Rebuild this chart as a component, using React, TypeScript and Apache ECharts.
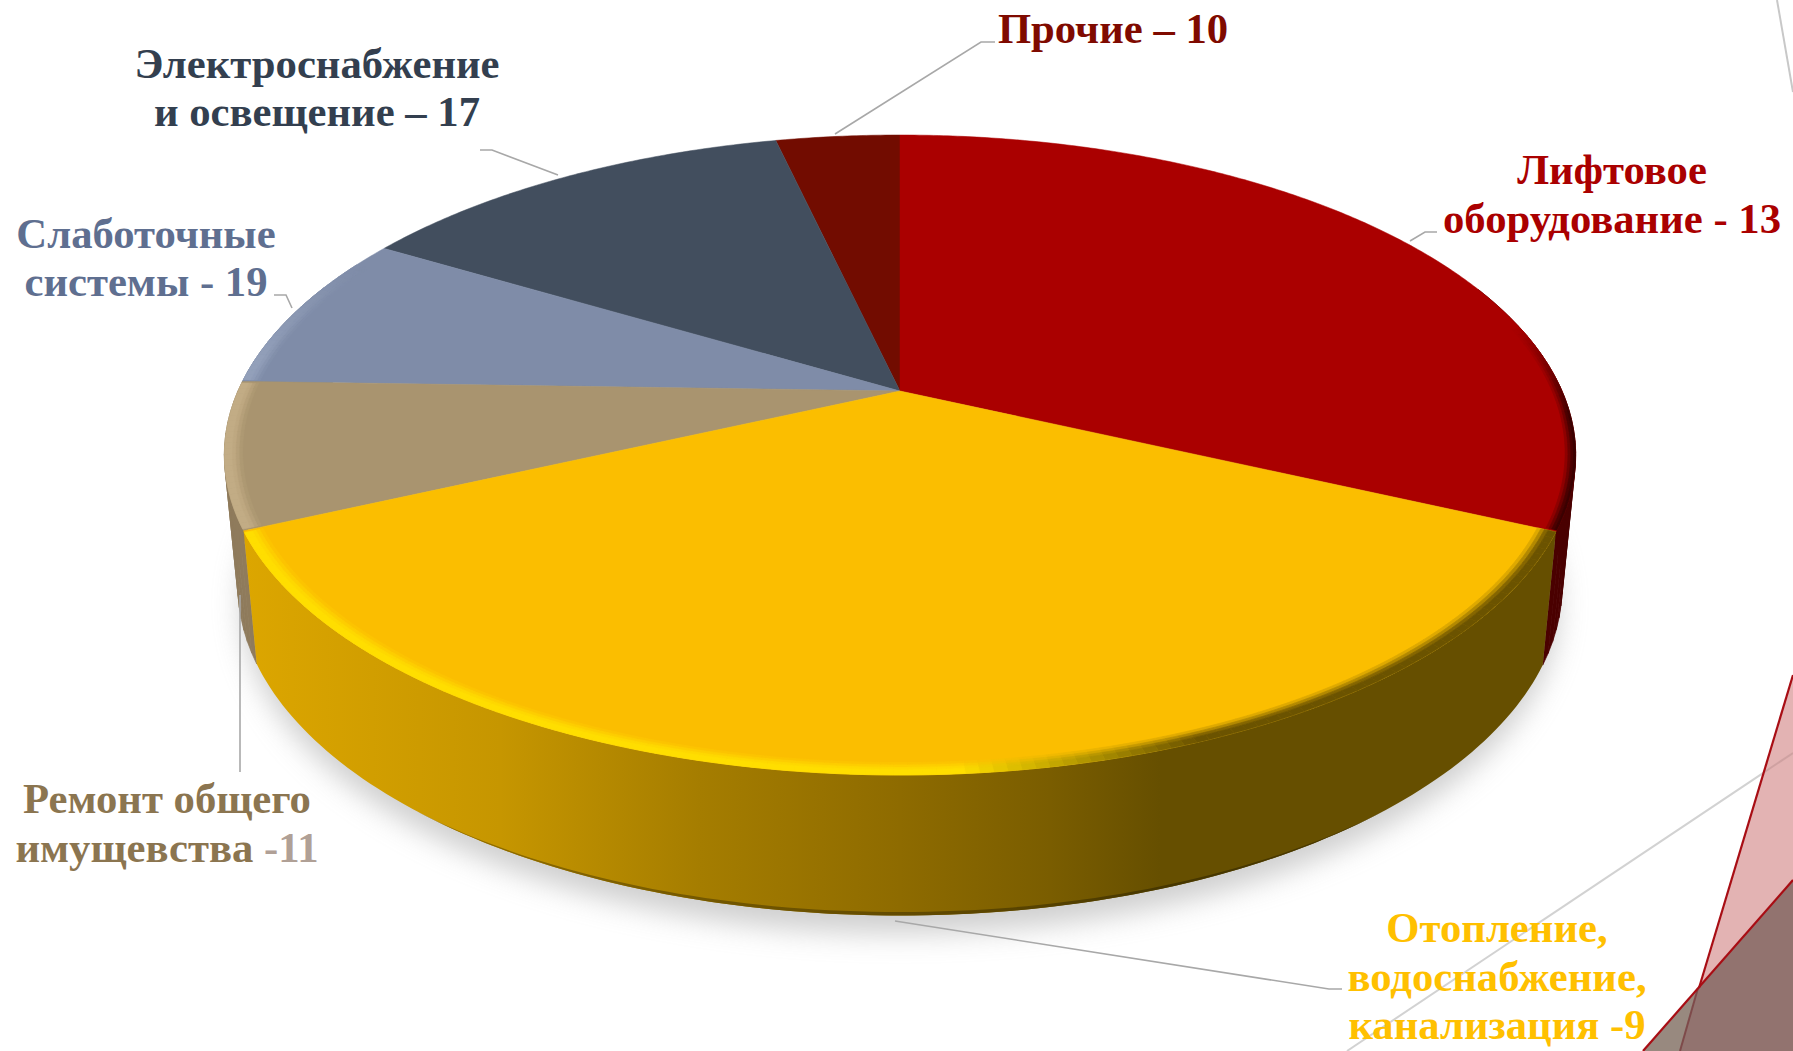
import React, { useEffect, useRef } from "react";
import * as echarts from "echarts";

// Slice shares (percent of the circle), clockwise from 12 o'clock
const sliceNames = ["Лифтовое оборудование", "Отопление, водоснабжение, канализация", "Ремонт общего имущевства", "Слаботочные системы", "Электроснабжение и освещение", "Прочие"];
const sliceValues = [31.9, 36.25, 7.35, 8.05, 12.85, 3.6];
const faceColors = ["#AA0000", "#FBBE00", "#A9946F", "#7F8CA8", "#424E5E", "#720C00"];
const edgeColors = ["#3A0000", "#FFDE00", "#C2AC85", "#93A0BA", "#424E5E", "#720C00"];
const wallColors = ["#4A0000", "#664F00", "#8F7B5C", "#6F7A92", "#39434F", "#5A0900"];
const yellowWallStops: [number, string][] = [[245, "#DCA600"], [500, "#C69600"], [700, "#A57D00"], [900, "#8E6B00"], [1050, "#7A5D00"], [1160, "#664F00"], [1600, "#664F00"]];
const drawOrder = [5, 4, 3, 2, 0, 1];

const FONT = "Liberation Serif";
const FS = 42.7;

// Perspective disc
const CX = 900, CY = 391, RX = 662, RY = 307.2, PERSP = 0.2;
const BOTTOM_CY = 520, BOTTOM_SX = 0.98, BOTTOM_SY = 1.03;

const rad = (d: number) => (d * Math.PI) / 180;
function disc(angle: number, r: number) {
  const u = r * Math.sin(rad(angle));
  const v = r * Math.cos(rad(angle));
  const d = 1 + PERSP * v;
  return { X: (RX * u) / d, Y: (-RY * v) / d, v };
}
const topPt = (a: number, r = 1): number[] => {
  const p = disc(a, r);
  return [CX + p.X, CY + p.Y];
};
const botPt = (a: number, r = 1): number[] => {
  const p = disc(a, r);
  return [CX + BOTTOM_SX * p.X, BOTTOM_CY + BOTTOM_SY * p.Y];
};
const hex = (c: string) => [1, 3, 5].map((i) => parseInt(c.slice(i, i + 2), 16));
function mix(a: string, b: string, t: number) {
  const k = Math.max(0, Math.min(1, t));
  const A = hex(a), B = hex(b);
  return "#" + A.map((v, i) => Math.round(v + (B[i] - v) * k).toString(16).padStart(2, "0")).join("");
}
const GX0 = 245, GX1 = 1600;
function wallGradient(dark: number) {
  return new echarts.graphic.LinearGradient(
    GX0, 0, GX1, 0,
    yellowWallStops.map(([x, c]) => ({ offset: (x - GX0) / (GX1 - GX0), color: mix(c, "#000000", dark) })),
    true,
  );
}
function edgeColor(i: number, x: number) {
  if (i === 1) return mix("#FFDE00", "#6B5300", (x - 960) / 240);
  return edgeColors[i];
}
function edgeStrength(i: number, v: number) {
  if (i === 0) return Math.max(0, Math.min(1, (0.22 - v) / 0.3));
  return Math.max(0, Math.min(1, (0.45 - v) / 0.35));
}

const total = sliceValues.reduce((a, b) => a + b, 0);
const spans = sliceValues.map((_, i) => {
  const start = (sliceValues.slice(0, i).reduce((a, b) => a + b, 0) / total) * 360;
  return [start, start + (sliceValues[i] / total) * 360];
});
const rows = drawOrder.map((i) => ({ name: sliceNames[i], value: [spans[i][0], spans[i][1], i, sliceValues[i]] }));

function steps(a0: number, a1: number, step: number) {
  const out: number[] = [];
  const n = Math.max(1, Math.ceil((a1 - a0) / step));
  for (let k = 0; k <= n; k++) out.push(a0 + ((a1 - a0) * k) / n);
  return out;
}
const quad = (pts: number[][], fill: any) => ({
  type: "polygon",
  shape: { points: pts },
  style: { fill, stroke: typeof fill === "string" ? fill : "none", lineWidth: 0.7 },
  silent: true,
});

function renderWall(_: any, api: any) {
  const a0 = api.value(0), a1 = api.value(1), i = api.value(2);
  const children: any[] = [];
  if (i === 1) {
    const as = steps(a0, a1, 1);
    const pts = as.map((a) => topPt(a)).concat(as.slice().reverse().map((a) => botPt(a)));
    children.push(quad(pts, wallGradient(0)));
    // thin darker lip along the front of the lower edge
    const lip = steps(Math.max(a0, 140), Math.min(a1, 220), 1);
    const upper = lip.map((a) => {
      const p = botPt(a);
      return [p[0], p[1] - 3.5 * Math.max(0, (-disc(a, 1).v - 0.78) / 0.22)];
    });
    children.push(quad(upper.concat(lip.slice().reverse().map((a) => botPt(a))), wallGradient(0.3)));
    return { type: "group", children };
  }
  const as = steps(a0, a1, 2);
  for (let k = 0; k < as.length - 1; k++) {
    const m = (as[k] + as[k + 1]) / 2;
    if (disc(m, 1).v > 0.35) continue;
    children.push(quad([topPt(as[k]), topPt(as[k + 1]), botPt(as[k + 1]), botPt(as[k])], wallColors[i]));
  }
  return { type: "group", children };
}

const bands = [[0.974, 0.979, 0.2], [0.979, 0.984, 0.5], [0.984, 0.989, 0.82], [0.989, 1, 1]];
const redBands = [[0.985, 0.989, 0.25], [0.989, 0.993, 0.55], [0.993, 0.997, 0.85], [0.997, 1, 1]];

function renderFace(_: any, api: any) {
  const a0 = api.value(0), a1 = api.value(1), i = api.value(2);
  const pts: number[][] = [[CX, CY]];
  steps(a0, a1, 0.5).forEach((a) => pts.push(topPt(a)));
  const children: any[] = [{
    type: "polygon",
    shape: { points: pts },
    style: { fill: faceColors[i], stroke: faceColors[i], lineWidth: 0.5 },
    silent: true,
  }];
  const as = steps(i === 1 ? a0 : a0 + 0.3, a1 - 0.3, 1);
  const rings = i === 0 ? redBands : bands;
  for (let k = 0; k < as.length - 1; k++) {
    const m = (as[k] + as[k + 1]) / 2;
    const strength = edgeStrength(i, disc(m, 1).v);
    if (strength <= 0.01) continue;
    const x = topPt(m)[0];
    rings.forEach(([r0, r1, w]) => {
      children.push(quad(
        [topPt(as[k], r0), topPt(as[k + 1], r0), topPt(as[k + 1], r1), topPt(as[k], r1)],
        mix(faceColors[i], edgeColor(i, x), w * strength),
      ));
    });
  }
  return { type: "group", children };
}

const labelLine = (points: number[][]) => ({
  type: "polyline",
  z: 5,
  shape: { points },
  style: { stroke: "#A8A8A8", lineWidth: 1.6, fill: "none" },
  silent: true,
});
const text = (t: string, x: number, y: number, fill: string) => ({
  type: "text",
  z: 10,
  style: { text: t, x, y, fill, align: "center", verticalAlign: "middle", font: `bold ${FS}px "${FONT}"` },
});

function shadowPoints() {
  return steps(0, 360, 3).map((a) => {
    const p = botPt(a);
    return [CX + (p[0] - CX) * 0.995, p[1] - 2];
  });
}

const graphicElements: any[] = [
  { type: "line", z: 1, shape: { x1: 1777, y1: 0, x2: 1793, y2: 92 }, style: { stroke: "#C8C8C8", lineWidth: 2 }, silent: true },
  { type: "polygon", z: 1, shape: { points: shadowPoints() }, style: { fill: "#D6D6D6", shadowBlur: 28, shadowOffsetY: 20, shadowColor: "#CFCFCF" }, silent: true },
  { type: "line", z: 1, shape: { x1: 1347, y1: 1051, x2: 1793, y2: 753 }, style: { stroke: "#D2D2D2", lineWidth: 2 }, silent: true },
  { type: "polygon", z: 2, shape: { points: [[1793, 675], [1700, 987], [1793, 880]] }, style: { fill: "#E3B3B3" }, silent: true },
  { type: "polygon", z: 2, shape: { points: [[1793, 880], [1697, 990], [1680, 1051], [1793, 1051]] }, style: { fill: "#92736F" }, silent: true },
  { type: "polygon", z: 2, shape: { points: [[1697, 990], [1643, 1051], [1680, 1051]] }, style: { fill: "#98897F" }, silent: true },
  { type: "line", z: 3, shape: { x1: 1763, y1: 773, x2: 1793, y2: 753 }, style: { stroke: "rgba(170,130,130,0.35)", lineWidth: 2 }, silent: true },
  { type: "line", z: 3, shape: { x1: 1698, y1: 988, x2: 1680, y2: 1051 }, style: { stroke: "#7E4A4A", lineWidth: 2 }, silent: true },
  { type: "line", z: 3, shape: { x1: 1793, y1: 675, x2: 1699, y2: 988 }, style: { stroke: "#A80D14", lineWidth: 2.2 }, silent: true },
  { type: "line", z: 3, shape: { x1: 1793, y1: 880, x2: 1643, y2: 1051 }, style: { stroke: "#A80D14", lineWidth: 2.2 }, silent: true },

  labelLine([[835, 134], [981, 42], [995, 42]]),
  labelLine([[558, 175], [492, 150], [480, 150]]),
  labelLine([[292, 308], [286, 295], [274, 295]]),
  labelLine([[1410, 241], [1425, 232], [1437, 232]]),
  labelLine([[240, 595], [240, 772]]),
  labelLine([[895, 921], [1329, 989], [1342, 989]]),

  text("Прочие – 10", 1113, 28, "#7F0A00"),
  text("Электроснабжение", 317, 63, "#333F4F"),
  text("и освещение – 17", 317, 111, "#333F4F"),
  text("Слаботочные", 146, 233, "#5F6F90"),
  text("системы - 19", 146, 281, "#5F6F90"),
  text("Лифтовое", 1612, 169, "#AA0000"),
  text("оборудование - 13", 1612, 218, "#AA0000"),
  text("Отопление,", 1497, 927, "#FFC000"),
  text("водоснабжение,", 1497, 976, "#FFC000"),
  text("канализация -9", 1497, 1024, "#FFC000"),
  text("Ремонт общего", 167, 798, "#8B7550"),
  {
    type: "text",
    z: 10,
    style: {
      text: "{a|имущевства }{b|-11}",
      x: 167,
      y: 847,
      align: "center",
      verticalAlign: "middle",
      rich: {
        a: { fill: "#8B7550", font: `bold ${FS}px "${FONT}"` },
        b: { fill: "#B0A096", font: `bold ${FS}px "${FONT}"` },
      },
    },
  },
];

export default function App() {
  const ref = useRef<HTMLDivElement>(null);
  useEffect(() => {
    document.body.style.margin = "0";
    document.body.style.overflow = "hidden";
    const chart = echarts.init(ref.current!, undefined, { renderer: "svg" });
    chart.setOption({
      animation: false,
      backgroundColor: "#FFFFFF",
      tooltip: { show: false },
      graphic: { elements: graphicElements },
      series: [
        { type: "custom", name: "walls", coordinateSystem: "none", renderItem: renderWall, data: rows, z: 3, silent: true },
        { type: "custom", name: "faces", coordinateSystem: "none", renderItem: renderFace, data: rows, z: 4, silent: true },
      ],
    });
    return () => chart.dispose();
  }, []);
  return <div ref={ref} style={{ width: 1793, height: 1051 }} />;
}
